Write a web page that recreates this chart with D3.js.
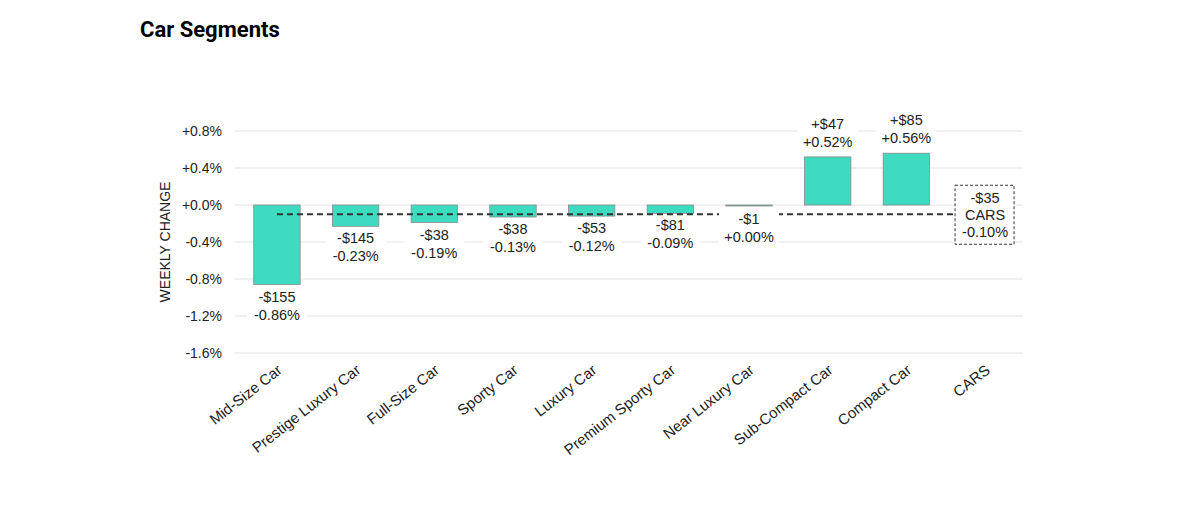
<!DOCTYPE html>
<html>
<head>
<meta charset="utf-8">
<script src="https://cdn.jsdelivr.net/npm/d3@7"></script>
<style>
  body { margin: 0; background: #fff; }
  svg text { font-family: "Liberation Sans", Arial, sans-serif; }
</style>
</head>
<body>
<svg id="chart" width="1200" height="506"></svg>
<script>
var categories = ["Mid-Size Car", "Prestige Luxury Car", "Full-Size Car", "Sporty Car", "Luxury Car",
  "Premium Sporty Car", "Near Luxury Car", "Sub-Compact Car", "Compact Car", "CARS"];
var pctChange = [-0.86, -0.23, -0.19, -0.13, -0.12, -0.09, 0.00, 0.52, 0.56];
var dollarChange = ["-$155", "-$145", "-$38", "-$38", "-$53", "-$81", "-$1", "+$47", "+$85"];
var totalPct = -0.10;
var totalDollar = "-$35";
var yTicks = [0.8, 0.4, 0.0, -0.4, -0.8, -1.2, -1.6];

var svg = d3.select("#chart");

svg.append("text").attr("x", 140).attr("y", 37)
  .style("font-family", "Roboto, sans-serif").style("font-weight", "bold").style("font-size", "22px")
  .text("Car Segments");

var x = d3.scaleBand().domain(categories).range([238, 1024]).paddingInner(0.41).paddingOuter(0.2);
var y = d3.scaleLinear().domain([-1.6, 0.8]).range([353, 131]);

function fmt(v) { return (v < 0 ? "-" : "+") + Math.abs(v).toFixed(1) + "%"; }

// gridlines
svg.append("g").selectAll("line").data(yTicks).join("line")
  .attr("x1", 235).attr("x2", 1023)
  .attr("y1", d => y(d)).attr("y2", d => y(d))
  .attr("stroke", "#e2e2e2").attr("stroke-width", 1);

// y axis
var yAxis = svg.append("g").attr("transform", "translate(232,0)")
  .call(d3.axisLeft(y).tickValues(yTicks).tickFormat(fmt).tickSize(0).tickPadding(10));
yAxis.select(".domain").remove();
yAxis.selectAll("text").style("font-size", "14px").attr("fill", "#222");

svg.append("text").attr("transform", "translate(170,242) rotate(-90)")
  .attr("text-anchor", "middle").style("font-size", "14px").attr("fill", "#222")
  .text("WEEKLY CHANGE");

// bars
var segs = categories.slice(0, pctChange.length);
svg.append("g").selectAll("rect").data(segs).join("rect")
  .attr("x", d => x(d))
  .attr("width", x.bandwidth())
  .attr("y", (d, i) => y(Math.max(0, pctChange[i])))
  .attr("height", (d, i) => Math.max(1, Math.abs(y(pctChange[i]) - y(0))))
  .attr("fill", "#3ddcc0").attr("stroke", "#8a8a8a").attr("stroke-width", 0.8);

// average dashed line
svg.append("line")
  .attr("x1", x(categories[0]) + x.bandwidth() / 2).attr("x2", x("CARS") - 2)
  .attr("y1", y(totalPct)).attr("y2", y(totalPct))
  .attr("stroke", "#333").attr("stroke-width", 2).attr("stroke-dasharray", "6,4");

// value labels
var labels = svg.append("g").selectAll("g").data(segs).join("g")
  .attr("transform", (d, i) => {
    var cx = x(d) + x.bandwidth() / 2;
    var v = pctChange[i];
    var ty = v > 0 ? y(v) - 28 : (v === 0 ? y(totalPct) + 10 : y(v) + 17);
    return "translate(" + cx + "," + ty + ")";
  });
labels.append("rect").attr("x", -30).attr("y", -14).attr("width", 60).attr("height", 38).attr("fill", "#fff");
labels.append("text").attr("text-anchor", "middle").attr("y", 0).style("font-size", "14.5px").attr("fill", "#222")
  .text((d, i) => dollarChange[i]);
labels.append("text").attr("text-anchor", "middle").attr("y", 18).style("font-size", "14.5px").attr("fill", "#222")
  .text((d, i) => (pctChange[i] < 0 ? "-" : "+") + Math.abs(pctChange[i]).toFixed(2) + "%");

// total box
var cxT = x("CARS") + x.bandwidth() / 2;
var tg = svg.append("g").attr("transform", "translate(" + cxT + "," + y(totalPct) + ")");
tg.append("rect").attr("x", -30).attr("y", -29).attr("width", 59).attr("height", 59)
  .attr("fill", "#fff").attr("stroke", "#333").attr("stroke-dasharray", "3,2");
[totalDollar, "CARS", (totalPct < 0 ? "-" : "+") + Math.abs(totalPct).toFixed(2) + "%"].forEach((t, i) => {
  tg.append("text").attr("text-anchor", "middle").attr("y", -11 + i * 17)
    .style("font-size", "14.5px").attr("fill", "#222").text(t);
});

// x axis labels
svg.append("g").selectAll("text").data(categories).join("text")
  .attr("transform", d => "translate(" + (x(d) + x.bandwidth() / 2 + 6) + ",372) rotate(-38)")
  .attr("text-anchor", "end").style("font-size", "15px").attr("fill", "#222")
  .text(d => d);
</script>
</body>
</html>
